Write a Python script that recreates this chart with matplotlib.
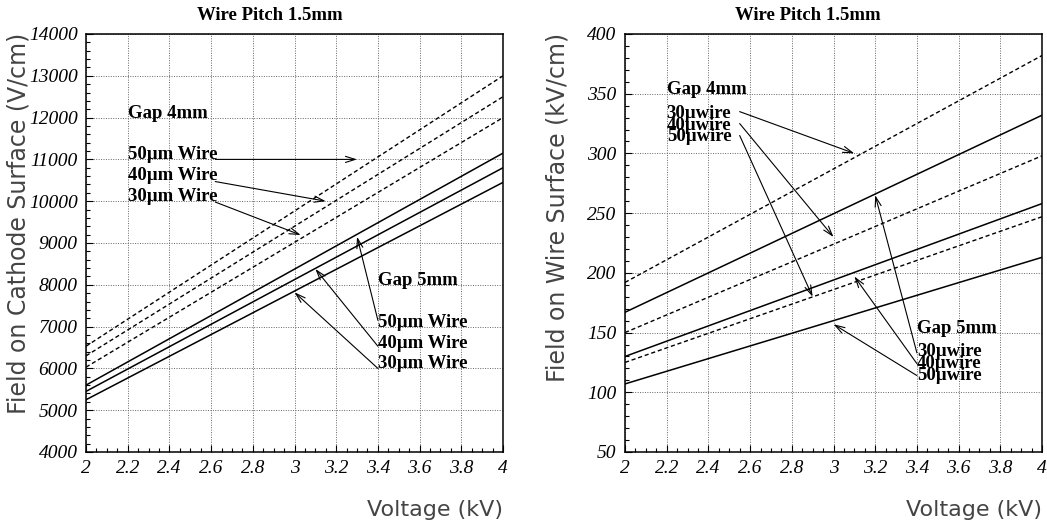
import matplotlib
matplotlib.use('Agg')
from matplotlib import pyplot as plt
from matplotlib.ticker import MultipleLocator, FormatStrFormatter

# voltage range (kV) at which each field curve is evaluated
volt = [2.0, 4.0]

# field on cathode surface (V/cm), wire pitch 1.5 mm
cath_gap4_50 = [6530, 13000]
cath_gap4_40 = [6300, 12500]
cath_gap4_30 = [6030, 12000]
cath_gap5_50 = [5600, 11150]
cath_gap5_40 = [5450, 10800]
cath_gap5_30 = [5250, 10450]

# field on wire surface (kV/cm), wire pitch 1.5 mm
wire_gap4_30 = [192, 382]
wire_gap4_40 = [150, 298]
wire_gap4_50 = [125, 247]
wire_gap5_30 = [167, 332]
wire_gap5_40 = [130, 258]
wire_gap5_50 = [107, 213]

W, H = 1047, 527
fig = plt.figure(figsize=(W / 100, H / 100), dpi=100)

SERIF = 'Liberation Serif'
SANS = 'DejaVu Sans'
dash = (0, (3, 2))


def setup(ax, ymin, ymax, ymaj, ymin_step):
    ax.set_xlim(2, 4)
    ax.set_ylim(ymin, ymax)
    ax.xaxis.set_major_locator(MultipleLocator(0.2))
    ax.xaxis.set_minor_locator(MultipleLocator(0.05))
    ax.yaxis.set_major_locator(MultipleLocator(ymaj))
    ax.yaxis.set_minor_locator(MultipleLocator(ymin_step))
    ax.xaxis.set_major_formatter(FormatStrFormatter('%g'))
    ax.yaxis.set_major_formatter(FormatStrFormatter('%g'))
    ax.tick_params(which='both', direction='in', top=False, right=False)
    ax.tick_params(which='major', length=5, width=0.8, pad=6)
    ax.tick_params(which='minor', length=3, width=0.8)
    ax.grid(True, which='major', color='0.4', linestyle=(0, (1, 1.5)), linewidth=0.7)
    for s in ax.spines.values():
        s.set_linewidth(1.1)
    for lab in ax.get_xticklabels() + ax.get_yticklabels():
        lab.set_family(SERIF)
        lab.set_style('italic')
        lab.set_fontsize(14)


def arrow(ax, start, tip):
    ax.annotate('', xy=tip, xytext=start,
                arrowprops=dict(arrowstyle='->,head_length=0.7,head_width=0.22',
                                lw=0.8, color='black', shrinkA=0, shrinkB=0))


def label(ax, x, y, s):
    ax.text(x, y, s, family=SERIF, weight='bold', fontsize=13.5,
            ha='left', va='baseline')


bottom = (H - 452) / H
height = 418 / H
ax1 = fig.add_axes([86 / W, bottom, 417 / W, height])
ax2 = fig.add_axes([625 / W, bottom, 417 / W, height])

# ---- left: cathode surface field ----
for y in (cath_gap4_50, cath_gap4_40, cath_gap4_30):
    ax1.plot(volt, y, color='black', lw=1.0, linestyle=dash)
for y in (cath_gap5_50, cath_gap5_40, cath_gap5_30):
    ax1.plot(volt, y, color='black', lw=1.1)
setup(ax1, 4000, 14000, 1000, 200)

label(ax1, 2.2, 12000, 'Gap 4mm')
label(ax1, 2.2, 11000, '50µm Wire')
label(ax1, 2.2, 10500, '40µm Wire')
label(ax1, 2.2, 10000, '30µm Wire')
arrow(ax1, (2.62, 11000), (3.3, 11000))
arrow(ax1, (2.62, 10470), (3.15, 10000))
arrow(ax1, (2.62, 9980), (3.03, 9190))

label(ax1, 3.4, 8000, 'Gap 5mm')
label(ax1, 3.4, 7000, '50µm Wire')
label(ax1, 3.4, 6500, '40µm Wire')
label(ax1, 3.4, 6000, '30µm Wire')
arrow(ax1, (3.4, 7150), (3.3, 9150))
arrow(ax1, (3.4, 6530), (3.1, 8380))
arrow(ax1, (3.4, 6000), (3.0, 7820))

# ---- right: wire surface field ----
for y in (wire_gap4_30, wire_gap4_40, wire_gap4_50):
    ax2.plot(volt, y, color='black', lw=1.0, linestyle=dash)
for y in (wire_gap5_30, wire_gap5_40, wire_gap5_50):
    ax2.plot(volt, y, color='black', lw=1.1)
setup(ax2, 50, 400, 50, 10)

label(ax2, 2.2, 350, 'Gap 4mm')
label(ax2, 2.2, 330, '30µwire')
label(ax2, 2.2, 320, '40µwire')
label(ax2, 2.2, 310, '50µwire')
arrow(ax2, (2.55, 335), (3.1, 300))
arrow(ax2, (2.55, 325), (3.0, 230))
arrow(ax2, (2.55, 315), (2.9, 180))

label(ax2, 3.4, 150, 'Gap 5mm')
label(ax2, 3.4, 130, '30µwire')
label(ax2, 3.4, 120, '40µwire')
label(ax2, 3.4, 110, '50µwire')
arrow(ax2, (3.4, 133), (3.2, 265))
arrow(ax2, (3.4, 124), (3.1, 197))
arrow(ax2, (3.4, 114), (3.0, 157))

# titles and axis captions
for xc in (270, 808):
    fig.text(xc / W, 1 - 15 / H, 'Wire Pitch 1.5mm', family=SERIF, weight='bold',
             fontsize=13.5, ha='center', va='center')

fig.text(19 / W, 1 - 33 / H, 'Field on Cathode Surface (V/cm)', family=SANS,
         fontsize=17, color='#444444', rotation=90, ha='center', va='top')
fig.text(558 / W, 1 - 33 / H, 'Field on Wire Surface (kV/cm)', family=SANS,
         fontsize=17, color='#444444', rotation=90, ha='center', va='top')
for xr in (503, 1042):
    fig.text(xr / W, 1 - 510 / H, 'Voltage (kV)', family=SANS,
             fontsize=16, color='#444444', ha='right', va='center')

fig.savefig('out.png', dpi=100)
